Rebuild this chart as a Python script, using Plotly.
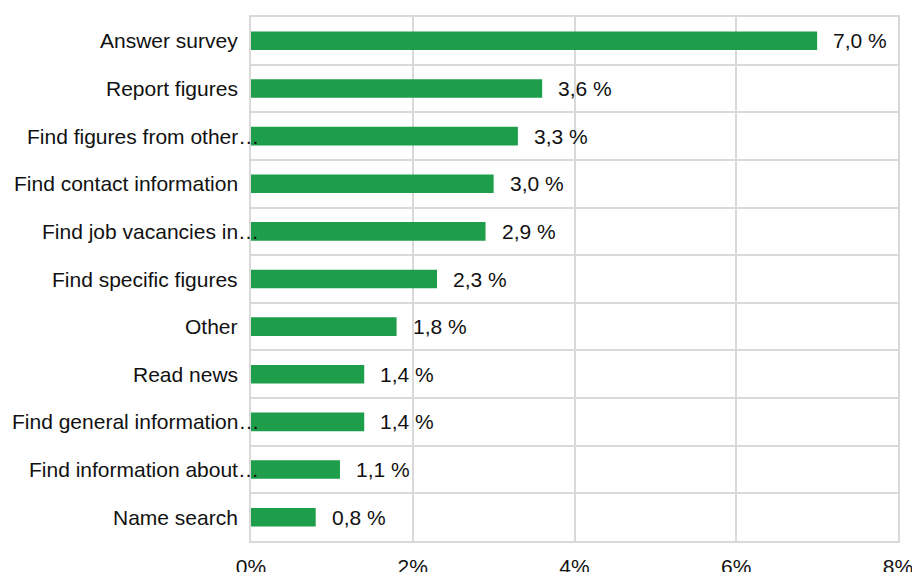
import plotly.graph_objects as go

# Share of visits by purpose (percent), listed top to bottom
purposes = [
    "Answer survey",
    "Report figures",
    "Find figures from other…",
    "Find contact information",
    "Find job vacancies in…",
    "Find specific figures",
    "Other",
    "Read news",
    "Find general information…",
    "Find information about…",
    "Name search",
]
shares = [7.0, 3.6, 3.3, 3.0, 2.9, 2.3, 1.8, 1.4, 1.4, 1.1, 0.8]
x_ticks = [0, 2, 4, 6, 8]
x_tick_labels = ["0%", "2%", "4%", "6%", "8%"]

BAR_COLOR = "#1e9e4a"
GRID = "#d9d9d9"
TEXT = "#111111"
FONT = "Liberation Sans, Arial, sans-serif"
FS = 21

fig = go.Figure(
    go.Bar(
        x=shares,
        y=purposes,
        orientation="h",
        marker=dict(color=BAR_COLOR, line=dict(width=0)),
        hoverinfo="skip",
    )
)

annotations = []
# value labels to the right of each bar
for p, v in zip(purposes, shares):
    annotations.append(dict(
        x=v, y=p, xref="x", yref="y",
        text=f"{v:.1f}".replace(".", ",") + " %",
        showarrow=False, xanchor="left", yanchor="middle",
        xshift=14, font=dict(family=FONT, size=FS, color=TEXT),
    ))
# category labels, truncated ones let the ellipsis hang past the axis
for p in purposes:
    shift = 10 if p.endswith("…") else -11
    annotations.append(dict(
        x=0, y=p, xref="paper", yref="y",
        text=p, showarrow=False, xanchor="right", yanchor="middle",
        xshift=shift, font=dict(family=FONT, size=FS, color=TEXT),
    ))

fig.update_layout(
    width=912, height=572,
    margin=dict(l=251, r=14, t=17, b=31, autoexpand=False),
    plot_bgcolor="white", paper_bgcolor="white",
    bargap=0.61,
    showlegend=False,
    annotations=annotations,
    font=dict(family=FONT, size=FS, color=TEXT),
    xaxis=dict(
        range=[0, 8], tickvals=x_ticks, ticktext=x_tick_labels,
        showgrid=True, gridcolor=GRID, gridwidth=2,
        zeroline=False, showline=True, linecolor=GRID, linewidth=2,
        mirror=True, ticks="", ticklabelstandoff=6,
        ticklabeloverflow="allow", automargin=False,
        tickfont=dict(family=FONT, size=FS, color=TEXT),
        fixedrange=True,
    ),
    yaxis=dict(
        categoryorder="array", categoryarray=purposes[::-1],
        tickson="boundaries", showgrid=True, gridcolor=GRID, gridwidth=2,
        showticklabels=False, ticks="", automargin=False,
        showline=True, linecolor=GRID, linewidth=2, mirror=True,
        zeroline=False, fixedrange=True,
    ),
)

fig.write_html("out.html")
